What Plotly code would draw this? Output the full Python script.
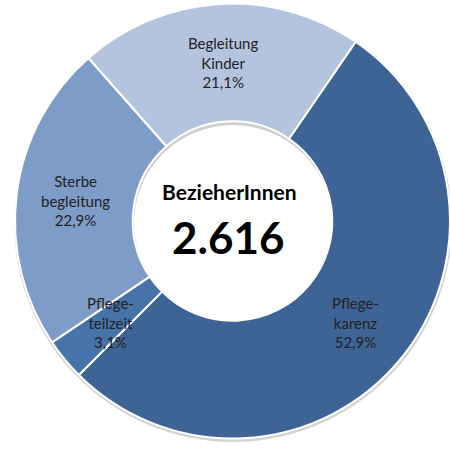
import math
import plotly.graph_objects as go

# Anteile der Leistungsarten an allen BezieherInnen (in %)
categories = ["Pflegekarenz", "Pflegeteilzeit", "Sterbebegleitung", "Begleitung Kinder"]
label_lines = ["Pflege-<br>karenz", "Pflege-<br>teilzeit", "Sterbe<br>begleitung", "Begleitung<br>Kinder"]
shares = [52.9, 3.1, 22.9, 21.1]
colors = ["#3d6495", "#4673aa", "#7e9cc8", "#b5c4de"]
total_label = "BezieherInnen"
total_value = "2.616"

W, H = 450, 449
CX, CY = 233, 221        # donut centre in pixels (from top-left)
R_OUT, R_IN = 218, 100   # outer / inner radius in pixels
ROTATION = 34.5          # start of first slice, degrees clockwise from 12 o'clock


def px(x):
    return x / W


def py(y):
    return 1 - y / H


fig = go.Figure()
fig.add_trace(go.Pie(
    labels=categories,
    values=shares,
    sort=False,
    direction="clockwise",
    rotation=ROTATION,
    hole=R_IN / R_OUT,
    marker=dict(colors=colors, line=dict(color="white", width=2)),
    textinfo="none",
    hoverinfo="label+percent",
    showlegend=False,
    domain=dict(x=[px(CX - R_OUT), min(1.0, px(CX + R_OUT))],
                y=[py(CY + R_OUT), py(CY - R_OUT)]),
))

# slice labels at the middle of each ring segment
annotations = []
total = sum(shares)
angle = ROTATION
r_mid = (R_IN + R_OUT) / 2
for lab, val in zip(label_lines, shares):
    span = val / total * 360
    mid = math.radians(angle + span / 2)
    angle += span
    lx = CX + r_mid * math.sin(mid)
    ly = CY - r_mid * math.cos(mid)
    txt = f"{lab}<br>{val:.1f}%".replace(".", ",")
    annotations.append(dict(
        x=px(lx), y=py(ly), xref="paper", yref="paper", text=txt,
        showarrow=False, xanchor="center", yanchor="middle",
        font=dict(family="Lato", size=15, color="#222222"),
    ))

annotations.append(dict(
    x=px(CX - 3), y=py(CY - 29), xref="paper", yref="paper", text=total_label,
    showarrow=False, xanchor="center", yanchor="middle",
    font=dict(family="Lato", size=21, color="#000000", weight="bold"),
))
annotations.append(dict(
    x=px(CX - 5), y=py(CY + 16), xref="paper", yref="paper", text=total_value,
    showarrow=False, xanchor="center", yanchor="middle",
    font=dict(family="Lato", size=44, color="#000000", weight="bold"),
))

# soft drop shadow under the ring and inside the hole
shapes = [
    dict(type="circle", xref="paper", yref="paper", layer="below",
         x0=px(CX - R_OUT - 1), x1=px(CX + R_OUT + 1),
         y0=py(CY + R_OUT + 3), y1=py(CY - R_OUT + 1),
         fillcolor="#d4d4d4", line=dict(width=0)),
    dict(type="circle", xref="paper", yref="paper", layer="below",
         x0=px(CX - R_IN), x1=px(CX + R_IN),
         y0=py(CY + R_IN), y1=py(CY - R_IN),
         fillcolor="#cfcfcf", line=dict(width=0)),
    dict(type="circle", xref="paper", yref="paper", layer="below",
         x0=px(CX - R_IN + 1), x1=px(CX + R_IN - 1),
         y0=py(CY + R_IN), y1=py(CY - R_IN + 4),
         fillcolor="#ffffff", line=dict(width=0)),
]

fig.update_layout(
    width=W, height=H,
    margin=dict(l=0, r=0, t=0, b=0),
    paper_bgcolor="white",
    plot_bgcolor="white",
    annotations=annotations,
    shapes=shapes,
)

fig.write_html("out.html")
